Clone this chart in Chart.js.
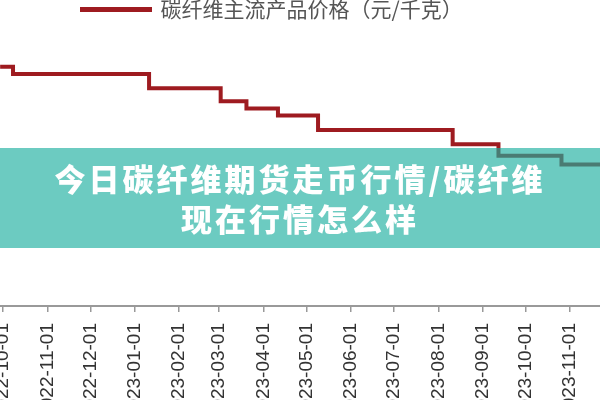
<!DOCTYPE html>
<html>
<head>
<meta charset="utf-8">
<script src="https://cdn.jsdelivr.net/npm/chart.js@4.4.0/dist/chart.umd.min.js"></script>
<style>
    html, body { margin: 0; padding: 0; background: #fff; }
    #wrap { position: relative; width: 600px; height: 400px; overflow: hidden; }
    #banner {
        position: absolute; left: 0; top: 148px; width: 600px; height: 100px;
        box-sizing: border-box; padding-top: 10px;
        background: rgba(29, 175, 160, 0.65);
        color: #fff; text-align: center;
        font-family: "Noto Sans CJK SC", sans-serif; font-weight: 900;
        font-size: 31px; line-height: 40px; letter-spacing: 3px;
    }
</style>
</head>
<body>
<div id="wrap">
    <canvas id="price-chart" width="600" height="400"></canvas>
    <div id="banner">今日碳纤维期货走币行情/碳纤维<br>现在行情怎么样</div>
</div>
<script>
// Datos: fechas de cambio de precio y precio (元/千克)
const seriesName = '碳纤维主流产品价格（元/千克）';
const stepDates = ['2022-09-29', '2022-10-08', '2023-01-11', '2023-03-02', '2023-03-20', '2023-04-11',
                   '2023-05-09', '2023-08-11', '2023-09-12', '2023-10-26', '2023-11-23'];
const prices = [165, 162.5, 157.5, 153, 150.5, 148, 143, 138, 134, 131, 131];
const tickLabels = ['2022-10-01', '2022-11-01', '2022-12-01', '2023-01-01', '2023-02-01', '2023-03-01',
                    '2023-04-01', '2023-05-01', '2023-06-01', '2023-07-01', '2023-08-01', '2023-09-01',
                    '2023-10-01', '2023-11-01'];

// días desde 2022-10-01
const origin = Date.UTC(2022, 9, 1);
function dayOf(s) {
    const p = s.split('-').map(Number);
    return (Date.UTC(p[0], p[1] - 1, p[2]) - origin) / 86400000;
}

const points = stepDates.map((d, i) => ({ x: dayOf(d), y: prices[i] }));
const tickDays = tickLabels.map(dayOf);

// Mover la leyenda un poco a la izquierda (como en la imagen original)
const moveLegend = {
    id: 'moveLegend',
    beforeDraw(chart) {
        chart.legend.left = 80;
    }
};

const ctx = document.getElementById('price-chart').getContext('2d');
new Chart(ctx, {
    type: 'line',
    data: {
        datasets: [{
            label: seriesName,
            data: points,
            stepped: 'before',
            borderColor: '#9e1b20',
            backgroundColor: '#9e1b20',
            borderWidth: 4,
            pointRadius: 0,
            fill: false
        }]
    },
    options: {
        responsive: false,
        animation: false,
        layout: { padding: { top: -1, left: 0, right: 0, bottom: 0 } },
        plugins: {
            legend: {
                position: 'top',
                align: 'start',
                labels: {
                    boxWidth: 70,
                    boxHeight: 1,
                    padding: 0,
                    color: '#555',
                    font: { family: '"Noto Sans CJK SC", sans-serif', size: 21 }
                }
            },
            tooltip: { enabled: false }
        },
        scales: {
            x: {
                type: 'linear',
                min: -2.1,
                max: 416.9,
                afterBuildTicks: (scale) => {
                    scale.ticks = tickDays.map(v => ({ value: v }));
                },
                afterFit: (scale) => {
                    scale.paddingLeft = 0;
                    scale.paddingRight = 0;
                    scale.height = 94;
                },
                ticks: {
                    autoSkip: false,
                    minRotation: 90,
                    maxRotation: 90,
                    padding: 11,
                    color: '#333',
                    font: { family: '"Liberation Sans", Arial, sans-serif', size: 19 },
                    callback: (value) => tickLabels[tickDays.indexOf(value)]
                },
                grid: {
                    drawOnChartArea: false,
                    tickLength: 6,
                    color: '#999',
                    lineWidth: 1.5
                },
                border: { display: true, color: '#999', width: 2 }
            },
            y: {
                display: false,
                min: 81.7,
                max: 177.8
            }
        }
    },
    plugins: [moveLegend]
});
</script>
</body>
</html>
